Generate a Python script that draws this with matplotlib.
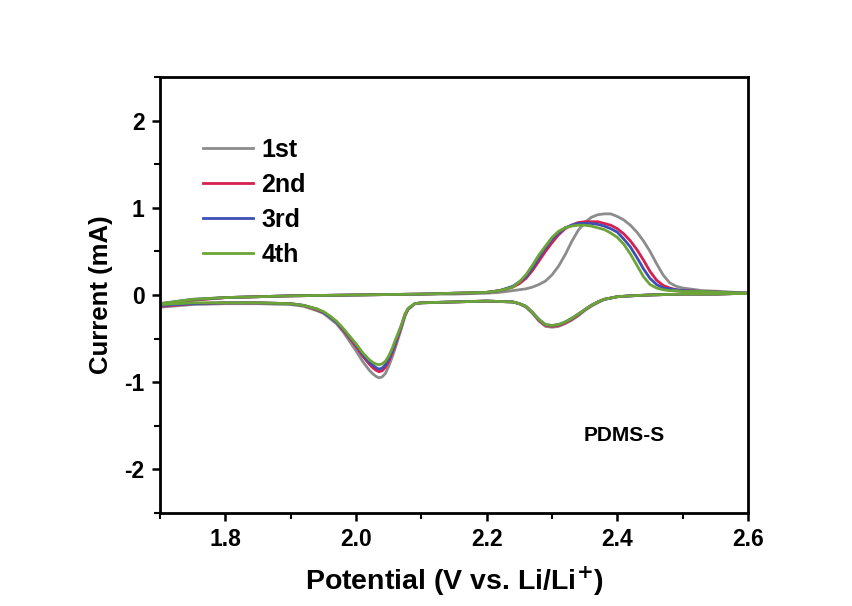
import numpy as np
import matplotlib.pyplot as plt
from matplotlib.ticker import MultipleLocator

plt.rcParams['font.family'] = ['Liberation Sans', 'DejaVu Sans']
plt.rcParams['font.weight'] = 'bold'
plt.rcParams['axes.unicode_minus'] = False

cycles = ['1st', '2nd', '3rd', '4th']
colors = ['#8c8c8c', '#d62050', '#3c50b4', '#6ca437']

# anodic sweep (1.7 -> 2.6 V)
v_anodic = [1.70, 1.75, 1.80, 1.85, 1.90, 2.00, 2.10, 2.15, 2.20, 2.22,
            2.24, 2.25, 2.26, 2.27, 2.28, 2.29, 2.30, 2.31, 2.32, 2.33, 2.34, 2.35, 2.36, 2.37,
            2.38, 2.39, 2.40, 2.41, 2.42, 2.43, 2.44, 2.45, 2.46, 2.47, 2.48, 2.49, 2.50,
            2.53, 2.56, 2.60]
i_anodic_1 = [-0.13, -0.06, -0.03, -0.02, -0.01, 0.00, 0.01, 0.01, 0.02, 0.03,
              0.05, 0.06, 0.07, 0.09, 0.12, 0.16, 0.23, 0.33, 0.46, 0.61, 0.74, 0.83, 0.89, 0.92,
              0.93, 0.93, 0.90, 0.86, 0.80, 0.72, 0.62, 0.50, 0.36, 0.23, 0.14, 0.10, 0.08,
              0.05, 0.04, 0.02]
i_anodic_2 = [-0.11, -0.06, -0.03, -0.02, -0.01, 0.00, 0.01, 0.02, 0.03, 0.05,
              0.09, 0.13, 0.19, 0.28, 0.39, 0.50, 0.60, 0.69, 0.76, 0.80, 0.83, 0.84, 0.84, 0.84,
              0.82, 0.80, 0.76, 0.70, 0.62, 0.52, 0.40, 0.27, 0.17, 0.11, 0.08, 0.06, 0.05,
              0.04, 0.03, 0.02]
i_anodic_3 = [-0.10, -0.05, -0.03, -0.02, -0.01, 0.00, 0.01, 0.02, 0.03, 0.05,
              0.10, 0.15, 0.21, 0.31, 0.43, 0.54, 0.64, 0.71, 0.77, 0.80, 0.82, 0.82, 0.82, 0.81,
              0.79, 0.76, 0.72, 0.64, 0.55, 0.43, 0.30, 0.19, 0.12, 0.08, 0.07, 0.06, 0.05,
              0.04, 0.03, 0.02]
i_anodic_4 = [-0.10, -0.05, -0.03, -0.02, -0.01, 0.00, 0.01, 0.02, 0.03, 0.05,
              0.09, 0.15, 0.23, 0.34, 0.46, 0.56, 0.66, 0.73, 0.77, 0.79, 0.80, 0.80, 0.79, 0.77,
              0.75, 0.71, 0.66, 0.58, 0.47, 0.34, 0.21, 0.12, 0.08, 0.06, 0.05, 0.05, 0.04,
              0.04, 0.03, 0.02]

# cathodic sweep (2.6 -> 1.7 V)
v_cathodic = [2.60, 2.55, 2.50, 2.45, 2.42, 2.40, 2.38, 2.37, 2.36, 2.35, 2.34, 2.33, 2.32,
              2.31, 2.30, 2.29, 2.28, 2.27, 2.26, 2.25, 2.24, 2.20, 2.15, 2.10, 2.09, 2.08,
              2.075, 2.07, 2.065, 2.06, 2.055, 2.05, 2.045, 2.04, 2.035, 2.03, 2.025, 2.02,
              2.01, 2.00, 1.99, 1.98, 1.97, 1.96, 1.95, 1.94, 1.92, 1.90, 1.85, 1.80, 1.75, 1.70]
i_cathodic_1 = [0.02, 0.01, 0.01, 0.00, -0.01, -0.02, -0.05, -0.09, -0.13, -0.18, -0.24, -0.29, -0.33,
                -0.36, -0.37, -0.36, -0.30, -0.21, -0.14, -0.10, -0.08, -0.07, -0.08, -0.09, -0.10, -0.16,
                -0.24, -0.37, -0.49, -0.61, -0.72, -0.82, -0.90, -0.94, -0.95, -0.93, -0.90, -0.86,
                -0.76, -0.64, -0.53, -0.42, -0.33, -0.27, -0.21, -0.18, -0.13, -0.11, -0.10, -0.10, -0.11, -0.14]
i_cathodic_2 = [0.02, 0.01, 0.01, 0.00, -0.01, -0.02, -0.05, -0.08, -0.12, -0.17, -0.23, -0.28, -0.32,
                -0.35, -0.36, -0.35, -0.29, -0.20, -0.13, -0.10, -0.08, -0.07, -0.08, -0.09, -0.10, -0.16,
                -0.23, -0.35, -0.46, -0.57, -0.67, -0.76, -0.83, -0.87, -0.88, -0.86, -0.83, -0.79,
                -0.70, -0.59, -0.49, -0.40, -0.31, -0.25, -0.20, -0.17, -0.12, -0.10, -0.09, -0.09, -0.10, -0.13]
i_cathodic_3 = [0.02, 0.01, 0.01, 0.00, -0.01, -0.02, -0.05, -0.08, -0.12, -0.17, -0.22, -0.27, -0.31,
                -0.34, -0.35, -0.34, -0.28, -0.20, -0.13, -0.10, -0.08, -0.07, -0.08, -0.09, -0.10, -0.16,
                -0.22, -0.34, -0.44, -0.55, -0.65, -0.73, -0.80, -0.84, -0.85, -0.83, -0.80, -0.77,
                -0.68, -0.57, -0.48, -0.39, -0.31, -0.25, -0.20, -0.16, -0.12, -0.10, -0.09, -0.09, -0.10, -0.12]
i_cathodic_4 = [0.02, 0.01, 0.01, 0.00, -0.01, -0.02, -0.05, -0.08, -0.12, -0.17, -0.22, -0.27, -0.31,
                -0.34, -0.35, -0.34, -0.28, -0.20, -0.13, -0.10, -0.08, -0.07, -0.08, -0.09, -0.10, -0.15,
                -0.22, -0.33, -0.43, -0.52, -0.62, -0.70, -0.76, -0.79, -0.80, -0.79, -0.77, -0.74,
                -0.66, -0.56, -0.47, -0.38, -0.30, -0.24, -0.19, -0.16, -0.12, -0.10, -0.09, -0.09, -0.09, -0.11]

anodic = [i_anodic_1, i_anodic_2, i_anodic_3, i_anodic_4]
cathodic = [i_cathodic_1, i_cathodic_2, i_cathodic_3, i_cathodic_4]

fig = plt.figure(figsize=(8.53, 6.06), dpi=100)
ax = fig.add_axes([0.1876, 0.1535, 0.6893, 0.7195])

for label, color, ia, ic in zip(cycles, colors, anodic, cathodic):
    v = np.concatenate([v_anodic, v_cathodic])
    i = np.concatenate([ia, ic])
    ax.plot(v, i, color=color, lw=2.0, label=label, solid_joinstyle='round')

ax.set_xlim(1.7, 2.6)
ax.set_ylim(-2.5, 2.5)
ax.xaxis.set_major_locator(MultipleLocator(0.2))
ax.xaxis.set_minor_locator(MultipleLocator(0.1))
ax.yaxis.set_major_locator(MultipleLocator(1))
ax.yaxis.set_minor_locator(MultipleLocator(0.5))
ax.tick_params(which='major', direction='out', length=6, width=1.8, labelsize=16.5, pad=5)
ax.tick_params(which='minor', direction='out', length=4, width=1.5)
for lab in ax.get_xticklabels() + ax.get_yticklabels():
    lab.set_fontweight('bold')
for s in ax.spines.values():
    s.set_linewidth(2)

ax.set_xlabel('Potential (V vs. Li/Li$^{\\mathbf{+}}$)', fontsize=20.5, fontweight='bold', labelpad=9)
ax.set_ylabel('Current (mA)', fontsize=18.5, fontweight='bold', labelpad=8)

ax.text(0.72, 0.177, 'PDMS-S', transform=ax.transAxes, fontsize=15, fontweight='bold',
        va='center')

ax.legend(loc='upper left', bbox_to_anchor=(0.06, 0.878), frameon=False,
          prop={'size': 18, 'weight': 'bold'}, handlelength=2.0, labelspacing=0.44,
          handletextpad=0.35, borderaxespad=0, borderpad=0.3)

fig.savefig('out.png', dpi=100)
